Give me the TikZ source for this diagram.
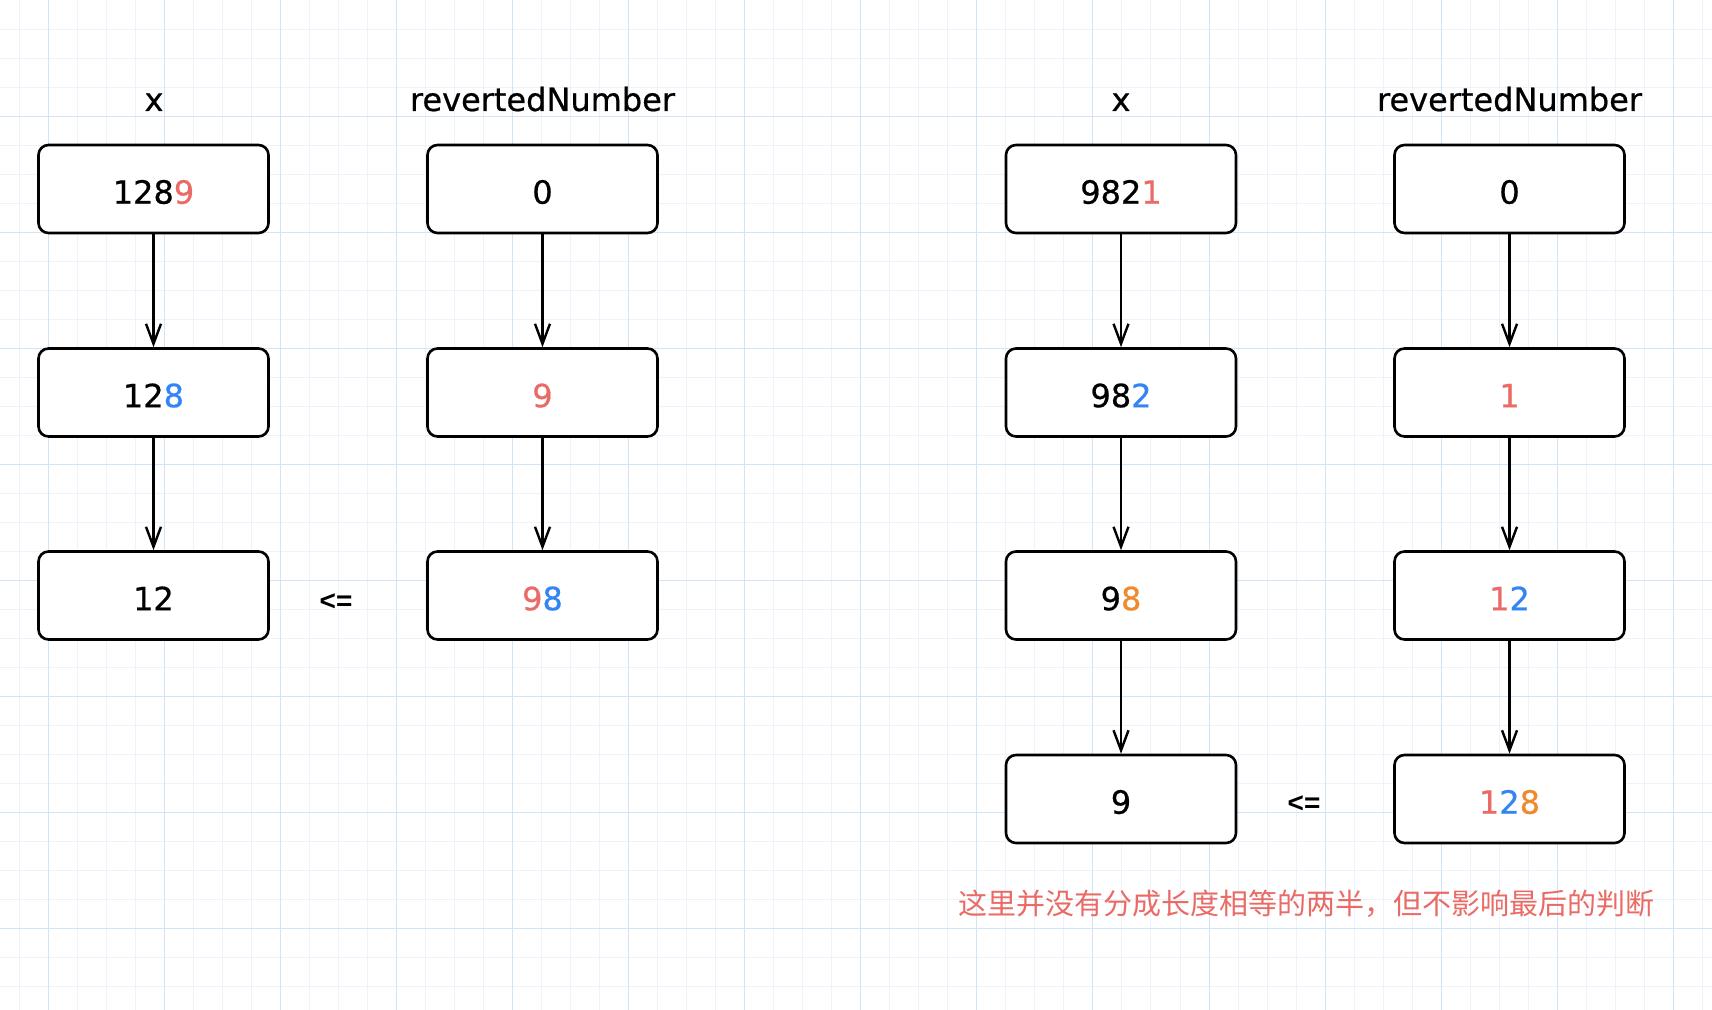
\documentclass[tikz,border=0pt]{standalone}
\usepackage{fontspec}
\setmainfont{DejaVu Sans}
\newfontfamily\medfont{DejaVu Sans}[FakeBold=0.6]
\newfontfamily\cjkfont{Noto Sans CJK SC}
\newfontfamily\libfont{Liberation Sans}
\usetikzlibrary{arrows.meta}
\definecolor{gmaj}{HTML}{D2E4F8}
\definecolor{gmin}{HTML}{ECF3FB}
\definecolor{cred}{HTML}{EA6B66}
\definecolor{cblue}{HTML}{3385F5}
\definecolor{corange}{HTML}{F08A2E}
\begin{document}
\begin{tikzpicture}[x=0.5pt,y=-0.5pt,
  valbox/.style={draw, fill=white, line width=1.3pt, rounded corners=5pt,
    minimum width=115pt, minimum height=44pt, inner sep=0pt,
    text height=14.7pt, text depth=0pt,
    font=\medfont\fontsize{16}{19}\selectfont},
  lbl/.style={anchor=base, inner sep=0pt, font=\medfont\fontsize{16}{19}\selectfont},
  cmp/.style={inner sep=0pt, font=\libfont\bfseries\fontsize{14}{16}\selectfont},
  note/.style={inner sep=0pt, text=cred, font=\cjkfont\fontsize{14.5}{17}\selectfont},
  conn/.style={line width=1.2pt, -{Straight Barb[length=10pt,width=7.5pt,line width=1.2pt]}}
]
\useasboundingbox (0,0) rectangle (1712,1010);
\fill[white] (0,0) rectangle (1712,1010);
% grid
\foreach \i in {0,...,59} {
  \draw[gmin, line width=0.5pt] ({19+\i*29.025},0) -- ({19+\i*29.025},1010);
}
\foreach \i in {0,...,35} {
  \draw[gmin, line width=0.5pt] (0,{\i*29.025}) -- (1712,{\i*29.025});
}
\foreach \i in {0,...,14} {
  \draw[gmaj, line width=0.5pt] ({48+\i*116.1},0) -- ({48+\i*116.1},1010);
}
\foreach \i in {0,...,8} {
  \draw[gmaj, line width=0.5pt] (0,{\i*116.1}) -- (1712,{\i*116.1});
}
% labels
\node[lbl] (lx1) at (154,111) {x};
\node[lbl] (lr1) at (542.5,111) {revertedNumber};
\node[lbl] (lx2) at (1121,111) {x};
\node[lbl] (lr2) at (1509.5,111) {revertedNumber};
% left group
\node[valbox] (a1) at (153.5,189) {128\textcolor{cred}{9}};
\node[valbox] (a2) at (153.5,392.5) {12\textcolor{cblue}{8}};
\node[valbox] (a3) at (153.5,595.5) {12};
\node[valbox] (b1) at (542.5,189) {0};
\node[valbox] (b2) at (542.5,392.5) {\textcolor{cred}{9}};
\node[valbox] (b3) at (542.5,595.5) {\textcolor{cred}{9}\textcolor{cblue}{8}};
\node[cmp] (le1) at (336,602) {<=};
% right group
\node[valbox] (c1) at (1121,189) {982\textcolor{cred}{1}};
\node[valbox] (c2) at (1121,392.5) {98\textcolor{cblue}{2}};
\node[valbox] (c3) at (1121,595.5) {9\textcolor{corange}{8}};
\node[valbox] (c4) at (1121,799) {9};
\node[valbox] (d1) at (1509.5,189) {0};
\node[valbox] (d2) at (1509.5,392.5) {\textcolor{cred}{1}};
\node[valbox] (d3) at (1509.5,595.5) {\textcolor{cred}{1}\textcolor{cblue}{2}};
\node[valbox] (d4) at (1509.5,799) {\textcolor{cred}{1}\textcolor{cblue}{2}\textcolor{corange}{8}};
\node[cmp] (le2) at (1304,804) {<=};
% connectors
\draw[conn] (a1) -- (a2);
\draw[conn] (a2) -- (a3);
\draw[conn] (b1) -- (b2);
\draw[conn] (b2) -- (b3);
\draw[conn] (c1) -- (c2);
\draw[conn] (c2) -- (c3);
\draw[conn] (c3) -- (c4);
\draw[conn] (d1) -- (d2);
\draw[conn] (d2) -- (d3);
\draw[conn] (d3) -- (d4);
% note
\node[note] (nt) at (1306,904) {这里并没有分成长度相等的两半，但不影响最后的判断};
\end{tikzpicture}
\end{document}
